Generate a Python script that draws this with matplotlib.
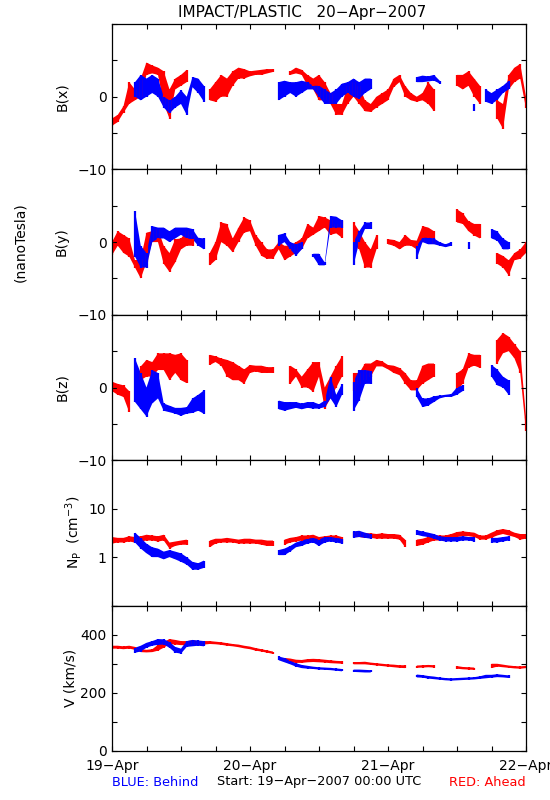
import numpy as np
import matplotlib.pyplot as plt

n = np.nan
hours = np.arange(73)  # hours since 19-Apr-2007 00:00 UTC

# ---- B(x) nT, hourly low / high of the plotted points ----
bx_red_lo = [-4, -3.5, -2.2, -1, -0.5, 0, 3, 3.2, 3, -1, -3, 1,
             1.5, 2, n, n, n, -0.5, -0.7, 0, 0, 1.5, 2.5, 2.5,
             2.8, 3, 3, 3.2, 3.4, n, n, 3, 3.2, 3, 1.5, 1,
             -0.5, -0.5, -1, -2.5, -2.5, -1, 0, -1, -2, -2.1, -1.5, -1,
             -0.5, 1.3, 2, 0, -0.5, -0.7, -0.5, -1, -2, n, n, n,
             1.5, 1, 1.5, 0, -1, n, n, -3, -4.4, 1, 2, 2.5,
             -1.6]
bx_red_hi = [-3, -2.5, -1.3, 2, 1, 2.5, 4.7, 4.3, 4, 3.5, 1, 2.5,
             3, 3.7, n, n, n, 1, 2, 3, 2.5, 3.5, 4, 3.8,
             3.5, 3.6, 3.7, 3.8, 3.8, n, n, 3.5, 4, 3.7, 3, 2.5,
             3, 2, 0.5, -1, -1, 1.5, 2, 1.5, -0.5, -1, 0, 0.5,
             1, 2.5, 3, 1.5, 0.5, 0, 0.5, 2, 1, n, n, n,
             3, 3, 3.5, 2.5, 1.5, n, n, -0.5, -1, 3, 4, 4.5,
             0]
bx_blue_lo = [n, n, n, n, 0, -0.5, 0, 0.5, 0, -1.5, -2.3, -1.5,
              -1, -2.5, 1.3, 0.5, -0.7, n, n, n, n, n, n, n,
              n, n, n, n, n, -0.5, 0, 0.5, 0, 0.5, 1, 1,
              0, -1, -1, -1, 0, 0.5, 0, -0.3, 0.5, 1, n, n,
              n, n, n, n, n, 2, 2, 2.1, 2.2, 1.8, n, n,
              n, n, n, -2, n, -0.7, -1, -0.5, 0.5, 1, n, n,
              n]
bx_blue_hi = [n, n, n, n, 2, 3, 2.5, 3, 2.5, 0, -0.5, 0,
              0.9, 0, 2.7, 2.5, 1.5, n, n, n, n, n, n, n,
              n, n, n, n, n, 2, 2.2, 2, 2, 2.2, 2, 1.5,
              1.5, 1, 0.5, 1, 1.8, 2, 2.5, 2, 2.5, 2.5, n, n,
              n, n, n, n, n, 2.7, 2.9, 2.8, 3, 2.2, n, n,
              n, n, n, -1, n, 1, 0.5, 1, 1.5, 2.2, n, n,
              n]

# ---- B(y) nT ----
by_red_lo = [-1.8, -0.5, -1.5, -2, -3.5, -5, -2.8, 0, 0, -3, -4.1, -2.8,
             -1, -0.5, -0.5, n, n, -3.2, -2.5, 0, -0.5, -1.4, 0, 1.3,
             1.5, -0.5, -1.9, -2.3, -2.3, -1, -2.5, -2, -1.5, -1, 0.5, 1,
             1.5, 2, 1, 1.2, 0.6, n, 0, -1, -3.5, -3.5, -1, n,
             -0.3, -0.5, -1, -0.5, -0.5, -1, 0, 0.5, -0.3, n, n, n,
             2.7, 2.5, 1.5, 0.9, 0.5, n, n, -3, -3.5, -4.6, -2.5, -2.3,
             -1.5]
by_red_hi = [0, 1.5, 1, 0.5, -2.5, -2.3, 1.3, 1.5, 1.8, -0.5, -1.5, 0.4,
             0.5, 1.5, 1, n, n, -1.5, 0, 2.7, 2.5, 0.5, 2, 3.4,
             3, 1, 0, -1, -1, 0, -0.5, -0.5, 0, 0.5, 2.5, 2,
             3.6, 3.4, 3, 2.5, 2.9, n, 2.7, 1.5, 0, -1, 1, n,
             0.4, 0.3, 0, 1, 0.3, 0.2, 2.2, 2, 1.5, n, n, n,
             4.5, 4, 2.9, 2.5, 2.5, n, n, -1.5, -1.9, -2.5, -1.5, -1,
             0]
by_blue_lo = [n, n, n, n, -2, -3.5, -3.5, 0, 0.5, 0.5, 0, 0.5,
              1, 0.5, 0.4, -0.5, -1, n, n, n, n, n, n, n,
              n, n, n, n, n, -0.5, 0, -1, -1.9, -1, n, -2,
              -3.2, -3.2, 2, 2, 2, n, -3.2, 0, 1.8, 1.8, n, n,
              n, n, n, n, n, -2.3, 0, -0.3, -0.3, -0.5, -0.7, -0.5,
              n, n, -1, n, n, n, 0.5, 0.2, -1, -1, n, n,
              n]
by_blue_hi = [n, n, n, n, 4.3, -0.5, -1.5, 2.2, 2, 2, 1.5, 2,
              2, 2, 1.8, 0.6, 0.5, n, n, n, n, n, n, n,
              n, n, n, n, n, 1, 1.2, 0, -0.3, 0, n, -1.6,
              -1.6, -2.8, 3.6, 3.5, 3, n, 0, 1.5, 2.7, 2.7, n, n,
              n, n, n, n, n, -0.5, 0.6, 0.6, 0.5, 0, -0.3, 0,
              n, n, 0, n, n, n, 1.8, 1.5, 0.5, 0, n, n,
              n]

# ---- B(z) nT ----
bz_red_lo = [-0.5, -1, -1.3, -3.4, n, 1, 1.5, 1.5, 2.4, 2.4, 1, 2,
             1, 0.6, n, n, n, 3.1, 3.5, 3, 1.5, 1, 1, 0.5,
             2, 2.2, 2, 2, 2, n, n, 0.5, 1.5, 0, 0, -0.6,
             1.5, -2.9, -1.5, 0, 1.5, n, -0.5, 0.5, 1, 1.5, 2.9, 2.9,
             2.5, 2, 1.7, 0.5, -0.4, -0.4, 0.5, 1, 1.5, n, n, n,
             -0.5, 0.5, 2.7, 3, 2.7, n, n, 3.3, 4.7, 5, 4, 2,
             -6]
bz_red_hi = [0.8, 0.5, 0.3, -0.5, n, 2.9, 3.8, 3.5, 4.7, 4.7, 4.7, 4.5,
             4.7, 3.8, n, n, n, 4.5, 4.3, 4, 3.8, 3.5, 3, 2.5,
             3.1, 3, 3, 2.8, 2.8, n, n, 3, 2.5, 1.5, 2.5, 3.5,
             3.5, 0, 1.5, 3, 4.3, n, 2, 2, 3.3, 3.3, 3.8, 3.6,
             3.1, 3, 2.7, 2, 1, 1, 3, 3.3, 3.3, n, n, n,
             2, 2.5, 4.7, 4.5, 4.5, n, n, 6.6, 7.5, 7, 6, 5,
             -4]
bz_blue_lo = [n, n, n, n, -2, -3, -4, -2.2, -1.5, -3.2, -3.4, -3.6,
              -3.9, -3.6, -3.5, -3.2, -3.6, n, n, n, n, n, n, n,
              n, n, n, n, n, -3, -3.2, -3, -2.8, -3, -2.8, -2.9,
              -2.9, -2.7, -1.5, -2.7, -1, n, -3.2, -1.8, 0.5, 0.5, n, n,
              n, n, n, n, n, -1.3, -2.7, -2.5, -2, -1.5, -1.3, -1.3,
              -1, -0.5, n, n, n, n, 1.5, 0.3, 0, -1, n, n,
              n]
bz_blue_hi = [n, n, n, n, 4, 2, 0, 2.4, 2, -2.2, -2.5, -2.8,
              -2.8, -2.7, -1.5, -1, -0.4, n, n, n, n, n, n, n,
              n, n, n, n, n, -1.8, -2, -2, -2, -2.2, -2, -2,
              -2.3, -1.8, 1.5, -1, 0.5, n, 0.8, 2.4, 2.4, 2.3, n, n,
              n, n, n, n, n, -0.1, -1.5, -1.5, -1.2, -1.1, -1, -0.9,
              0, 0.3, n, n, n, n, 3.1, 2.5, 1.5, 1, n, n,
              n]

# ---- Np cm^-3 ----
np_red_lo = [1.9, 2.0, 2.0, 2.1, 2.0, 2.1, 2.2, 2.2, 2.1, 2.2, 1.5, 1.7,
             1.8, 1.8, n, n, n, 1.6, 1.9, 2.0, 2.0, 2.0, 1.9, 1.9,
             1.9, 1.9, 1.8, 1.7, 1.7, n, 1.8, 2.0, 2.1, 2.2, 2.2, 2.2,
             2.1, 2.1, 2.2, 2.2, 2.0, n, 2.6, 2.6, 2.5, 2.5, 2.4, 2.4,
             2.4, 2.4, 2.3, 1.6, n, 1.7, 1.8, 2.0, 2.2, 2.2, 2.2, 2.4,
             2.6, 2.7, 2.7, 2.6, 2.3, 2.3, 2.5, 2.8, 3.0, 2.8, 2.6, 2.3,
             2.4]
np_red_hi = [2.6, 2.5, 2.5, 2.7, 2.6, 2.7, 2.9, 2.8, 2.7, 2.9, 2.0, 2.1,
             2.2, 2.3, n, n, n, 2.2, 2.4, 2.4, 2.5, 2.4, 2.3, 2.4,
             2.4, 2.3, 2.3, 2.2, 2.2, n, 2.3, 2.5, 2.6, 2.8, 2.8, 2.9,
             2.6, 2.7, 2.8, 2.8, 2.6, n, 3.3, 3.3, 3.1, 3.1, 3.0, 3.1,
             3.0, 3.0, 2.9, 2.3, n, 2.3, 2.4, 2.6, 2.8, 2.8, 2.8, 3.0,
             3.3, 3.4, 3.3, 3.2, 2.8, 2.8, 3.2, 3.6, 3.8, 3.6, 3.2, 3.0,
             3.0]
np_blue_lo = [n, n, n, n, 2.0, 1.5, 1.2, 1.0, 1.0, 0.9, 1.0, 0.9,
              0.8, 0.7, 0.55, 0.55, 0.6, n, n, n, n, n, n, n,
              n, n, n, n, n, 1.1, 1.1, 1.3, 1.6, 1.7, 1.9, 2.0,
              1.7, 2.0, 2.1, 2.0, 1.9, n, 2.5, 2.6, 2.5, 2.4, n, n,
              n, n, n, n, n, 2.9, 2.7, 2.6, 2.4, 2.2, 2.1, 2.1,
              2.1, 2.2, 2.2, 2.1, n, n, 2.0, 2.0, 2.1, 2.2, n, n,
              n]
np_blue_hi = [n, n, n, n, 3.2, 2.5, 1.9, 1.6, 1.5, 1.3, 1.4, 1.3,
              1.2, 1.0, 0.8, 0.75, 0.85, n, n, n, n, n, n, n,
              n, n, n, n, n, 1.4, 1.5, 1.7, 2.0, 2.2, 2.4, 2.5,
              2.3, 2.6, 2.6, 2.5, 2.4, n, 3.4, 3.5, 3.2, 3.0, n, n,
              n, n, n, n, n, 3.6, 3.4, 3.2, 3.0, 2.7, 2.6, 2.6,
              2.6, 2.7, 2.6, 2.6, n, n, 2.5, 2.5, 2.6, 2.7, n, n,
              n]

# ---- V km/s ----
v_red_lo = [352, 352, 350, 352, 348, 340, 339, 340, 345, 355, 368, 366,
            364, 364, 366, 366, 366, 368, 367, 365, 362, 360, 357, 353,
            350, 345, 342, 338, 334, n, 308, 305, 303, 303, 305, 306,
            305, 304, 302, 301, 300, n, 298, 298, 298, 296, 294, 292,
            290, 288, 286, 285, n, 286, 287, 288, 287, n, n, n,
            283, 281, 280, 279, n, n, 285, 290, 288, 286, 284, 283,
            285]
v_red_hi = [362, 362, 360, 362, 358, 350, 348, 350, 365, 375, 385, 382,
            378, 378, 380, 378, 378, 378, 376, 374, 371, 368, 366, 362,
            359, 354, 350, 346, 342, n, 320, 318, 314, 313, 316, 317,
            316, 314, 312, 310, 309, n, 306, 306, 307, 304, 302, 300,
            298, 297, 295, 295, n, 294, 295, 296, 295, n, n, n,
            292, 289, 288, 287, n, n, 300, 300, 297, 294, 292, 291,
            293]
v_blue_lo = [n, n, n, n, 338, 342, 355, 362, 365, 366, 355, 338,
             335, 358, 360, 362, 360, n, n, n, n, n, n, n,
             n, n, n, n, n, 312, 305, 298, 290, 285, 283, 282,
             280, 279, 278, 276, 274, n, 272, 271, 270, 270, n, n,
             n, n, n, n, n, 253, 252, 249, 247, 245, 243, 242,
             243, 244, 245, 246, 248, 250, 252, 254, 253, 251, n, n,
             n]
v_blue_hi = [n, n, n, n, 355, 362, 372, 378, 385, 384, 375, 358,
             352, 378, 382, 380, 378, n, n, n, n, n, n, n,
             n, n, n, n, n, 325, 320, 310, 302, 296, 293, 290,
             288, 287, 286, 284, 282, n, 280, 280, 279, 278, n, n,
             n, n, n, n, n, 263, 261, 258, 256, 253, 251, 250,
             251, 252, 253, 254, 257, 262, 262, 264, 262, 260, n, n,
             n]

day_labels = ['19\u2212Apr', '20\u2212Apr', '21\u2212Apr', '22\u2212Apr']

RED = '#ff0000'
BLUE = '#0000ff'

plt.rcParams['font.family'] = 'DejaVu Sans'
plt.rcParams['font.size'] = 10

W, H = 550, 800
fig = plt.figure(figsize=(W / 100, H / 100), dpi=100)

left_px, right_px = 112, 526
top_px, bot_px = 24, 751
ph = (bot_px - top_px) / 5


def band(ax, lo, hi, color):
    lo = np.asarray(lo, float)
    hi = np.asarray(hi, float)
    ax.fill_between(hours, lo, hi, color=color, lw=0)
    ok = ~np.isnan(lo)
    ax.vlines(hours[ok], lo[ok], hi[ok], color=color, lw=1.6)


axes = []
for i in range(5):
    y0 = top_px + i * ph
    ax = fig.add_axes([left_px / W, 1 - (y0 + ph) / H, (right_px - left_px) / W, ph / H])
    ax.set_xlim(0, 72)
    ax.set_xticks(np.arange(0, 73, 24))
    ax.set_xticks(np.arange(0, 73, 6), minor=True)
    ax.tick_params(which='both', direction='in', top=True, right=True,
                   length=3.5, width=0.8, pad=4)
    ax.tick_params(axis='x', pad=6)
    for s in ax.spines.values():
        s.set_linewidth(0.9)
    if i < 4:
        ax.set_xticklabels([])
    else:
        ax.set_xticklabels(day_labels)
    axes.append(ax)

series = [(bx_red_lo, bx_red_hi, bx_blue_lo, bx_blue_hi),
          (by_red_lo, by_red_hi, by_blue_lo, by_blue_hi),
          (bz_red_lo, bz_red_hi, bz_blue_lo, bz_blue_hi),
          (np_red_lo, np_red_hi, np_blue_lo, np_blue_hi),
          (v_red_lo, v_red_hi, v_blue_lo, v_blue_hi)]

for ax, (rl, rh, bl, bh) in zip(axes, series):
    band(ax, rl, rh, RED)
    band(ax, bl, bh, BLUE)

# magnetic field panels
for ax in axes[:3]:
    ax.set_ylim(-10, 10)
    ax.set_yticks([-10, 0, 10])
    ax.set_yticklabels(['\u221210', '0', ''])
    ax.set_yticks([-5, 5], minor=True)

# density panel (log)
axes[3].set_yscale('log')
axes[3].set_ylim(0.1, 100)
axes[3].yaxis.set_minor_locator(plt.NullLocator())
axes[3].set_yticks([0.1, 1, 10, 100])
axes[3].set_yticklabels(['', '1', '10', ''])

# speed panel
axes[4].set_ylim(0, 500)
axes[4].set_yticks([0, 200, 400])
axes[4].set_yticks([100, 300, 500], minor=True)

# axis labels
ylabels = ['B(x)', 'B(y)', 'B(z)', 'N$_\\mathrm{P}$  (cm$^{-3}$)', 'V (km/s)']
ylab_x = [62, 62, 62, 74, 71]
for i, lab in enumerate(ylabels):
    yc = top_px + (i + 0.5) * ph
    fig.text(ylab_x[i] / W, 1 - yc / H, lab, rotation=90, ha='center', va='center')
fig.text(20 / W, 1 - (top_px + 1.5 * ph) / H, '(nanoTesla)', rotation=90,
         ha='center', va='center')

fig.text(302 / W, 1 - 12 / H, 'IMPACT/PLASTIC   20\u2212Apr\u22122007',
         ha='center', va='center', fontsize=11)

fig.text(112 / W, 1 - 782 / H, 'BLUE: Behind', color=BLUE, ha='left', va='center',
         fontsize=9.3)
fig.text(319 / W, 1 - 781 / H, 'Start: 19\u2212Apr\u22122007 00:00 UTC',
         ha='center', va='center', fontsize=9.3)
fig.text(526 / W, 1 - 782 / H, 'RED: Ahead', color=RED, ha='right', va='center',
         fontsize=9.3)

fig.savefig('out.png', dpi=100)
